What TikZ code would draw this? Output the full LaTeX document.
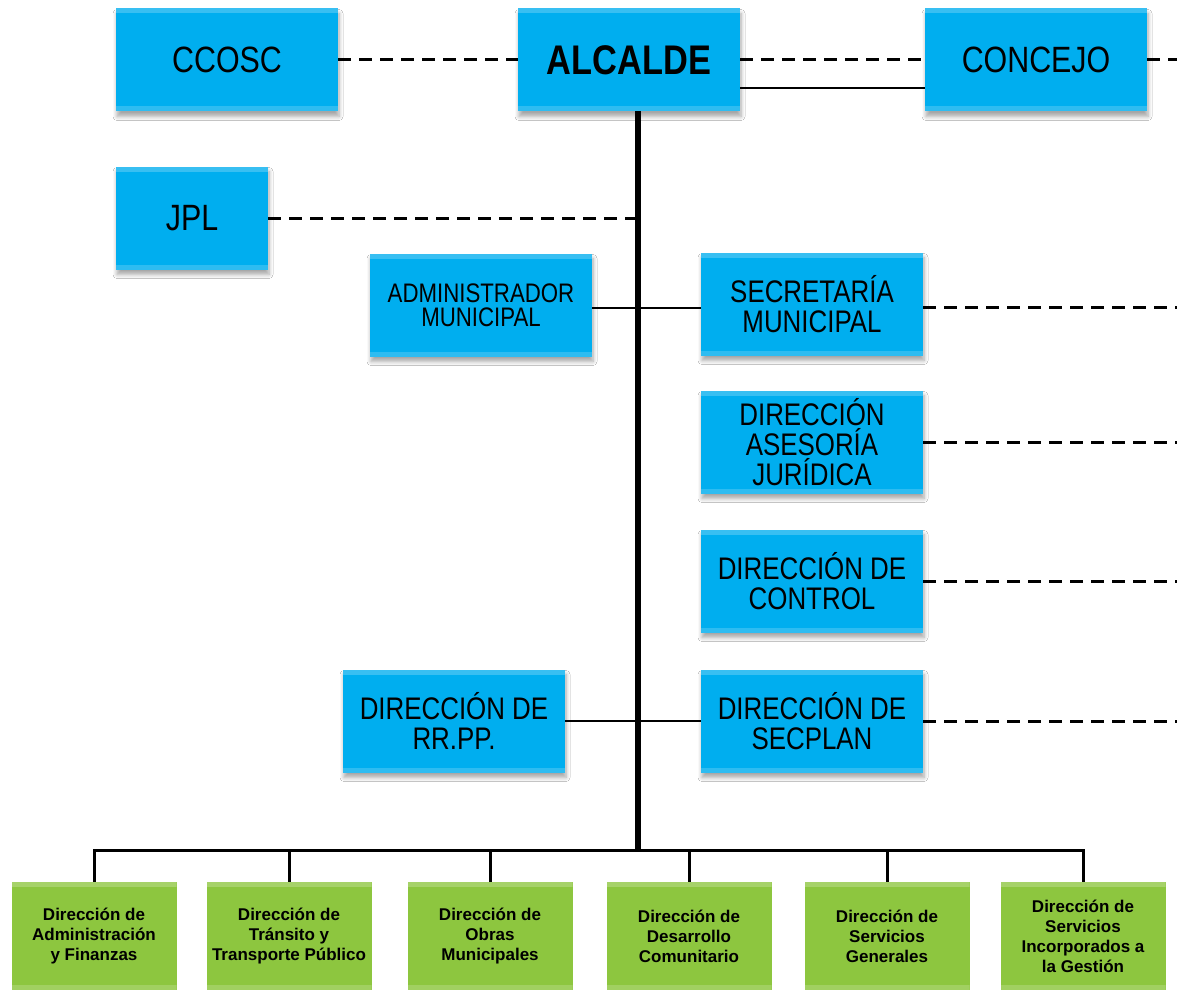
\documentclass[tikz,border=0pt]{standalone}
\usepackage{fontspec}
\setmainfont{Liberation Sans}
\newfontfamily\narrowfont[FakeStretch=0.83]{Liberation Sans}
\usetikzlibrary{shadows.blur}
\definecolor{boxblue}{RGB}{0,174,239}
\definecolor{boxgreen}{RGB}{141,198,63}
\begin{document}
\begin{tikzpicture}[x=0.5pt,y=-0.5pt,
  topband/.style={path picture={
    \fill[white,opacity=0.22] (path picture bounding box.north west) rectangle ([yshift=-2.5pt]path picture bounding box.north east);
    \fill[white,opacity=0.18] (path picture bounding box.south west) rectangle ([yshift=2.5pt]path picture bounding box.south east);}},
  softshadow/.style={blur shadow={shadow xshift=0.5pt, shadow yshift=-2.5pt, shadow blur steps=6, shadow blur radius=2pt, shadow opacity=35}},
  bbox/.style={fill=boxblue, minimum width=111pt, minimum height=51.5pt, align=center, inner sep=0pt, topband, softshadow},
  gbox/.style={fill=boxgreen, minimum width=82.5pt, minimum height=54pt, align=center, inner sep=0pt, topband,
    font=\bfseries\fontsize{8.5}{10}\selectfont},
  bigtxt/.style={font=\narrowfont\fontsize{18.3}{20}\selectfont},
  midtxt/.style={font=\narrowfont\fontsize{15.6}{15}\selectfont},
  smalltxt/.style={font=\narrowfont\fontsize{13.4}{12.2}\selectfont},
  dashline/.style={line width=1.5pt, dash pattern=on 6.5pt off 4pt},
  solidline/.style={line width=1.2pt},
  mainline/.style={line width=3pt},
  busline/.style={line width=1.5pt}]
\clip (0,0) rectangle (1177,990);
\fill[white] (0,0) rectangle (1177,990);

% top row
\node[bbox,bigtxt] (ccosc) at (227,60) {CCOSC};
\node[bbox,font=\narrowfont\bfseries\fontsize{20.7}{22}\selectfont] (alc) at (629,60) {ALCALDE};
\node[bbox,bigtxt] (conc) at (1036,60) {CONCEJO};
\node[bbox,bigtxt,minimum width=76pt] (jpl) at (192,218) {JPL};

% middle
\node[bbox,smalltxt] (adm) at (481,305) {ADMINISTRADOR\\MUNICIPAL};
\node[bbox,midtxt] (sec) at (812,304) {SECRETARÍA\\MUNICIPAL};
\node[bbox,midtxt] (jur) at (812,442) {DIRECCIÓN\\ASESORÍA\\JURÍDICA};
\node[bbox,midtxt] (ctrl) at (812,581) {DIRECCIÓN DE\\CONTROL};
\node[bbox,midtxt] (rrpp) at (454,721) {DIRECCIÓN DE\\RR.PP.};
\node[bbox,midtxt] (secp) at (812,721) {DIRECCIÓN DE\\SECPLAN};

% bottom row
\node[gbox] (g1) at (94,936) {Dirección de\\Administración\\y Finanzas};
\node[gbox] (g2) at (289,936) {Dirección de\\Tránsito y\\Transporte Público};
\node[gbox] (g3) at (490,936) {Dirección de\\Obras\\Municipales};
\node[gbox] (g4) at (689,936) {Dirección de\\Desarrollo\\Comunitario};
\node[gbox] (g5) at (887,936) {Dirección de\\Servicios\\Generales};
\node[gbox] (g6) at (1083,936) {Dirección de\\Servicios\\Incorporados a\\la Gestión};

% coordinates
\coordinate (top) at (638,111);
\coordinate (bus) at (638,850);
\coordinate (rconc) at (1177,60);
\coordinate (rsec) at (1177,307);
\coordinate (rjur) at (1177,442);
\coordinate (rctrl) at (1177,581);
\coordinate (rsecp) at (1177,721);

% connectors
\draw[dashline] (ccosc.east) -- (alc.west);
\draw[dashline] (alc.east) -- (conc.west);
\draw[dashline] (conc.east) -- (rconc);
\draw[solidline] ([yshift=-14pt]alc.east) -- ([yshift=-14pt]conc.west);
\draw[mainline] (top) -- (bus);
\draw[dashline] (jpl.east) -- (jpl.east -| top);
\draw[solidline] ([yshift=-1.5pt]adm.east) -- ([yshift=-1.5pt]adm.east -| sec.west);
\draw[dashline] (sec.east |- rsec) -- (rsec);
\draw[dashline] (jur.east) -- (rjur);
\draw[dashline] (ctrl.east) -- (rctrl);
\draw[solidline] (rrpp.east) -- (secp.west);
\draw[dashline] (secp.east) -- (rsecp);
\draw[busline] (g1.north) -- (g1.north |- bus) -- (g6.north |- bus) -- (g6.north);
\foreach \g in {g2,g3,g4,g5}{\draw[busline] (\g.north) -- (\g.north |- bus);}
\end{tikzpicture}
\end{document}
